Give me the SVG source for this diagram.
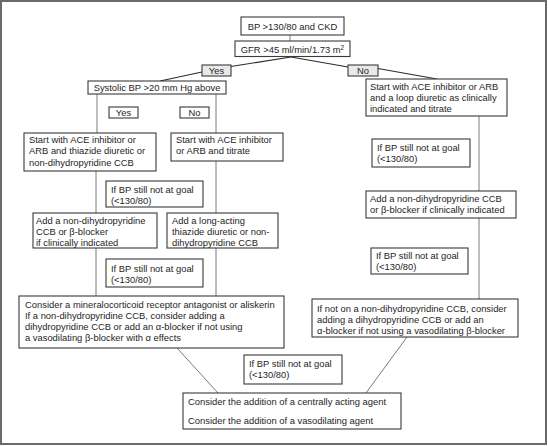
<svg xmlns="http://www.w3.org/2000/svg" width="548" height="446" viewBox="0 0 548 446">
<style>
  .box { fill: #ffffff; stroke: #3a3a3a; stroke-width: 1.1; }
  .lab { fill: #e9e9e9; stroke: #3a3a3a; stroke-width: 1.1; }
  .t { font-family: "Liberation Sans", Arial, sans-serif; font-size: 9.4px; fill: #1e1e1e; }
  .c { text-anchor: middle; }
  .dk { stroke: #2a2a2a; stroke-width: 1.1; fill: none; }
  .gr { stroke: #7a7a7a; stroke-width: 1; fill: none; }
</style>
<rect x="1" y="1" width="545" height="443" fill="#ffffff" stroke="#6a6a6a" stroke-width="2"/>
<g id="connectors">
  <line class="gr" x1="290" y1="35" x2="290" y2="41"/>
  <line class="dk" x1="291" y1="57" x2="231" y2="66.5"/>
  <line class="dk" x1="202" y1="72" x2="160" y2="81"/>
  <line class="dk" x1="291" y1="57" x2="348" y2="67"/>
  <line class="dk" x1="378" y1="68.5" x2="437" y2="79"/>
  <line class="gr" x1="97" y1="94" x2="97" y2="133"/>
  <line class="gr" x1="216" y1="94" x2="216" y2="133"/>
  <line class="gr" x1="96" y1="171" x2="96" y2="296"/>
  <line class="gr" x1="216" y1="161" x2="216" y2="296"/>
  <line class="gr" x1="479" y1="116" x2="479" y2="299"/>
  <line class="gr" x1="177" y1="348" x2="218" y2="393"/>
  <line class="gr" x1="407" y1="337" x2="366" y2="393"/>
</g>
<g id="n-bp">
  <rect class="box" x="241" y="17" width="103" height="18"/>
  <text class="t c" x="292.5" y="29.5">BP &gt;130/80 and CKD</text>
</g>
<g id="n-gfr">
  <rect class="box" x="235" y="41" width="115" height="15.5"/>
  <text class="t c" x="292.5" y="52.5">GFR &gt;45 ml/min/1.73 m<tspan font-size="6.5" dy="-3">2</tspan></text>
</g>
<g id="l-yes">
  <rect class="lab" x="202" y="65" width="29" height="11"/>
  <text class="t c" x="216.5" y="74">Yes</text>
</g>
<g id="l-no">
  <rect class="lab" x="348" y="65" width="30" height="11"/>
  <text class="t c" x="363" y="74">No</text>
</g>
<g id="n-systolic">
  <rect class="box" x="88" y="81" width="138" height="13"/>
  <text class="t c" x="157" y="91">Systolic BP &gt;20 mm Hg above</text>
</g>
<g id="n-right-start">
  <rect class="box" x="366" y="79" width="141" height="37"/>
  <text class="t" x="370" y="90">Start with ACE inhibitor or ARB</text>
  <text class="t" x="370" y="101">and a loop diuretic as clinically</text>
  <text class="t" x="370" y="112">indicated and titrate</text>
</g>
<g id="l-yes2">
  <rect class="box" x="109" y="107" width="29" height="11"/>
  <text class="t c" x="123.5" y="116">Yes</text>
</g>
<g id="l-no2">
  <rect class="box" x="180" y="107" width="29" height="11"/>
  <text class="t c" x="194.5" y="116">No</text>
</g>
<g id="n-left-start">
  <rect class="box" x="24" y="133" width="132" height="38"/>
  <text class="t" x="29" y="142.5">Start with ACE inhibitor or</text>
  <text class="t" x="29" y="154">ARB and thiazide diuretic or</text>
  <text class="t" x="29" y="165.5">non-dihydropyridine CCB</text>
</g>
<g id="n-mid-start">
  <rect class="box" x="171" y="133" width="112" height="28"/>
  <text class="t" x="176" y="142.5">Start with ACE inhibitor</text>
  <text class="t" x="176" y="154">or ARB and titrate</text>
</g>
<g id="n-goal-l1">
  <rect class="box" x="106" y="181" width="97" height="26"/>
  <text class="t" x="111" y="192.5">If BP still not at goal</text>
  <text class="t" x="111" y="203.5">(&lt;130/80)</text>
</g>
<g id="n-left-add">
  <rect class="box" x="33" y="213" width="124" height="35"/>
  <text class="t" x="36" y="223.5">Add a non-dihydropyridine</text>
  <text class="t" x="36" y="235">CCB or β-blocker</text>
  <text class="t" x="36" y="246">if clinically indicated</text>
</g>
<g id="n-long-acting">
  <rect class="box" x="167" y="213" width="111" height="35"/>
  <text class="t" x="172" y="223.5">Add a long-acting</text>
  <text class="t" x="172" y="235">thiazide diuretic or non-</text>
  <text class="t" x="172" y="246">dihydropyridine CCB</text>
</g>
<g id="n-goal-l2">
  <rect class="box" x="106" y="259" width="97" height="28"/>
  <text class="t" x="111" y="271.5">If BP still not at goal</text>
  <text class="t" x="111" y="282.5">(&lt;130/80)</text>
</g>
<g id="n-consider">
  <rect class="box" x="19" y="296" width="265" height="52"/>
  <text class="t" x="25" y="308">Consider a mineralocorticoid receptor antagonist or aliskerin</text>
  <text class="t" x="25" y="319">If a non-dihydropyridine CCB, consider adding a</text>
  <text class="t" x="25" y="330">dihydropyridine CCB or add an α-blocker if not using</text>
  <text class="t" x="25" y="341">a vasodilating β-blocker with α effects</text>
</g>
<g id="n-goal-r1">
  <rect class="box" x="372" y="139" width="98" height="28"/>
  <text class="t" x="377" y="150.5">If BP still not at goal</text>
  <text class="t" x="377" y="161.5">(&lt;130/80)</text>
</g>
<g id="n-right-add">
  <rect class="box" x="366" y="191" width="150" height="27"/>
  <text class="t" x="370" y="202">Add a non-dihydropyridine CCB</text>
  <text class="t" x="370" y="213">or β-blocker if clinically indicated</text>
</g>
<g id="n-goal-r2">
  <rect class="box" x="371" y="248" width="97" height="26"/>
  <text class="t" x="376" y="258.5">If BP still not at goal</text>
  <text class="t" x="376" y="269.5">(&lt;130/80)</text>
</g>
<g id="n-if-not">
  <rect class="box" x="312" y="299" width="206" height="38"/>
  <text class="t" x="317" y="311.5">If not on a non-dihydropyridine CCB, consider</text>
  <text class="t" x="317" y="323">adding a dihydropyridine CCB or add an</text>
  <text class="t" x="317" y="334">α-blocker if not using a vasodilating β-blocker</text>
</g>
<g id="n-goal-c">
  <rect class="box" x="244" y="355" width="98" height="29"/>
  <text class="t" x="249" y="366.5">If BP still not at goal</text>
  <text class="t" x="249" y="378">(&lt;130/80)</text>
</g>
<g id="n-final">
  <rect class="box" x="183" y="393" width="218" height="36"/>
  <text class="t" x="188" y="405">Consider the addition of a centrally acting agent</text>
  <text class="t" x="188" y="424">Consider the addition of a vasodilating agent</text>
</g>
</svg>
